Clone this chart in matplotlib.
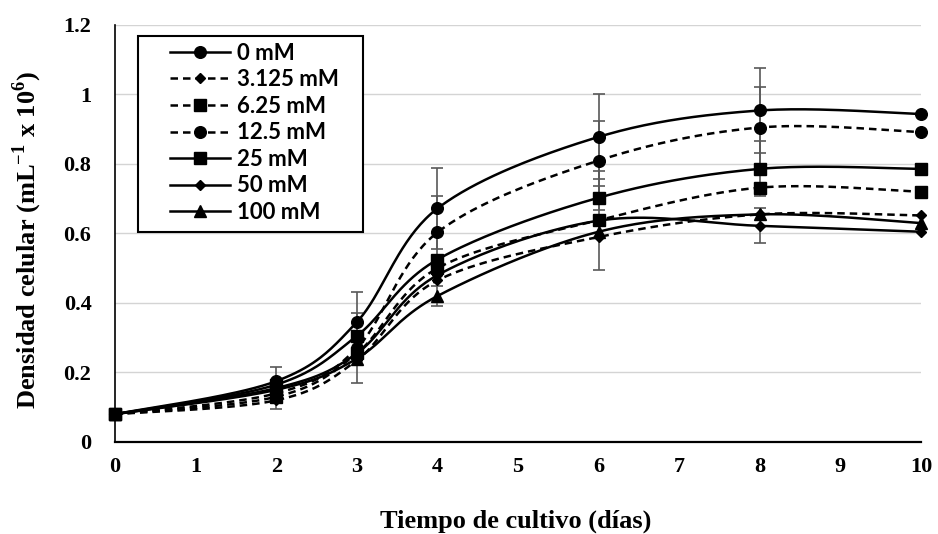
import numpy as np
import matplotlib
matplotlib.use('Agg')
import matplotlib.pyplot as plt
from matplotlib.lines import Line2D
from matplotlib.patches import Rectangle
from matplotlib.legend_handler import HandlerLine2D

plt.rcParams['mathtext.fontset'] = 'custom'
plt.rcParams['mathtext.rm'] = 'Liberation Serif:bold'
plt.rcParams['mathtext.bf'] = 'Liberation Serif:bold'

# sampling days
days = [0, 2, 3, 4, 6, 8, 10]

# cell density (mL^-1 x 10^6) per treatment
d_0 = [0.08, 0.175, 0.345, 0.672, 0.878, 0.954, 0.944]
d_3125 = [0.08, 0.12, 0.235, 0.465, 0.59, 0.655, 0.652]
d_625 = [0.08, 0.13, 0.255, 0.50, 0.638, 0.732, 0.72]
d_125 = [0.08, 0.14, 0.27, 0.603, 0.81, 0.905, 0.892]
d_25 = [0.08, 0.165, 0.305, 0.525, 0.703, 0.786, 0.786]
d_50 = [0.08, 0.155, 0.255, 0.48, 0.637, 0.622, 0.605]
d_100 = [0.08, 0.15, 0.24, 0.42, 0.605, 0.655, 0.63]

# standard deviations (0 = no bar shown)
e_0 = [0, 0.042, 0.086, 0.116, 0.122, 0.121, 0]
e_3125 = [0, 0, 0, 0, 0, 0, 0]
e_625 = [0, 0.035, 0, 0, 0.143, 0, 0]
e_125 = [0, 0, 0.101, 0.106, 0.114, 0.117, 0]
e_25 = [0, 0, 0, 0, 0.035, 0.079, 0]
e_50 = [0, 0, 0, 0, 0, 0.05, 0]
e_100 = [0, 0, 0, 0.03, 0, 0, 0]

labels = ['0 mM', '3.125 mM', '6.25 mM', '12.5 mM', '25 mM', '50 mM', '100 mM']
yticks = [0, 0.2, 0.4, 0.6, 0.8, 1.0, 1.2]
ytick_labels = ['0', '0.2', '0.4', '0.6', '0.8', '1', '1.2']
xticks = list(range(0, 11))

series = [
    (d_0, e_0, '-', 'o', 8.4),
    (d_3125, e_3125, '--', 'D', 5.6),
    (d_625, e_625, '--', 's', 8.6),
    (d_125, e_125, '--', 'o', 8.4),
    (d_25, e_25, '-', 's', 8.6),
    (d_50, e_50, '-', 'D', 5.6),
    (d_100, e_100, '-', '^', 8.0),
]


def smooth(x, y, n=40):
    # cubic bezier through the points (catmull-rom tangents), like a spreadsheet "smoothed line"
    pts = np.column_stack([x, y]).astype(float)
    P = np.vstack([pts[0], pts, pts[-1]])
    out = [pts[:1]]
    t = np.linspace(0, 1, n)[1:, None]
    for i in range(len(pts) - 1):
        p0, p1, p2, p3 = P[i], P[i + 1], P[i + 2], P[i + 3]
        c1 = p1 + (p2 - p0) / 6
        c2 = p2 - (p3 - p1) / 6
        seg = (1 - t) ** 3 * p1 + 3 * (1 - t) ** 2 * t * c1 + 3 * (1 - t) * t ** 2 * c2 + t ** 3 * p2
        out.append(seg)
    c = np.vstack(out)
    return c[:, 0], c[:, 1]


serif = 'Liberation Serif'
lw = 1.8
dash = (3, 2)

fig = plt.figure(figsize=(9.38, 5.34), dpi=100)
ax = fig.add_axes([0.1226, 0.1723, 0.8593, 0.7809])

handles = []
for (vals, err, ls, mk, ms), lab in zip(series, labels):
    sx, sy = smooth(days, vals)
    line, = ax.plot(sx, sy, color='black', lw=lw, ls=ls, zorder=3, clip_on=False)
    if ls == '--':
        line.set_dashes(dash)
    ex = [d for d, e in zip(days, err) if e > 0]
    ey = [v for v, e in zip(vals, err) if e > 0]
    ee = [e for e in err if e > 0]
    if ex:
        ax.errorbar(ex, ey, yerr=ee, fmt='none', ecolor='#595959', elinewidth=1.2,
                    capsize=4, capthick=1.2, zorder=2)
    ax.plot(days, vals, ls='none', marker=mk, ms=ms, color='black', zorder=4, clip_on=False)
    h = Line2D([], [], color='black', lw=lw, ls=ls, marker=mk, ms=ms)
    if ls == '--':
        h.set_dashes(dash)
    handles.append(h)

ax.set_xlim(0, 10)
ax.set_ylim(0, 1.2)
ax.set_xticks(xticks)
ax.set_yticks(yticks)
ax.set_yticklabels(ytick_labels)
ax.grid(axis='y', color='#d4d4d4', lw=1.0, zorder=0)
ax.set_axisbelow(True)

for s in ['top', 'right']:
    ax.spines[s].set_visible(False)
ax.spines['left'].set_linewidth(1.2)
ax.spines['bottom'].set_linewidth(1.6)
ax.tick_params(axis='both', length=0)
ax.tick_params(axis='y', pad=17)
ax.tick_params(axis='x', pad=11)
for lbl in ax.get_xticklabels() + ax.get_yticklabels():
    lbl.set_fontfamily(serif)
    lbl.set_fontweight('bold')
    lbl.set_fontsize(16)

fig.text(27 / 938, 1 - 240 / 534, 'Densidad celular (mL$^{-1}$ x 10$^{6}$)',
         rotation=90, ha='center', va='center', fontfamily=serif, fontweight='bold', fontsize=19)
fig.text(516 / 938, 1 - 521 / 534, 'Tiempo de cultivo (días)', ha='center', va='center',
         fontfamily=serif, fontweight='bold', fontsize=19)

# legend box drawn as its own patch so it keeps the wide right margin
box = Rectangle((0.0285, 0.5036), 0.2792, 0.470, transform=ax.transAxes,
                facecolor='white', edgecolor='black', lw=1.5, zorder=5, clip_on=False)
ax.add_patch(box)

leg = ax.legend(handles, labels, loc='upper left', bbox_to_anchor=(0.0285, 0.9736),
                borderaxespad=0, numpoints=1, handlelength=3.84, handletextpad=0.32,
                borderpad=0.3, labelspacing=0.25, frameon=False,
                prop={'family': 'Lato', 'weight': 'bold', 'size': 16},
                handler_map={Line2D: HandlerLine2D(xpad=1.14)})
leg.set_zorder(6)

fig.savefig('out.png', dpi=100)
